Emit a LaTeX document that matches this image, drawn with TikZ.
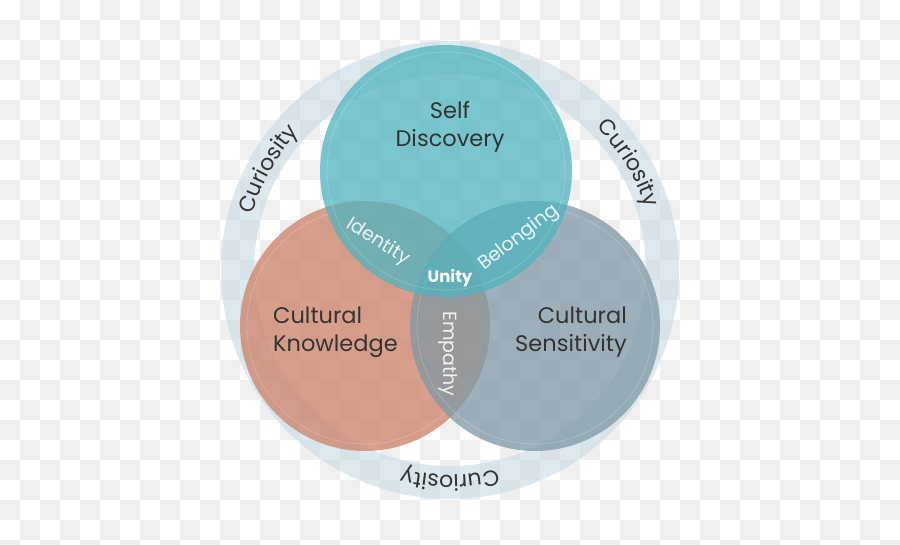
\documentclass[tikz,border=0pt]{standalone}
\usepackage{fontspec}
\setmainfont{Poppins}
\usetikzlibrary{decorations.text}
\definecolor{checkgray}{HTML}{EFEFEF}
\definecolor{ringcol}{HTML}{C9DCE5}
\definecolor{tealc}{HTML}{4FB5BF}
\definecolor{salmonc}{HTML}{CC8166}
\definecolor{greyc}{HTML}{7E98A5}
\definecolor{txt}{HTML}{333333}
\tikzset{
  venn/.style={fill opacity=0.75},
  glint/.style={draw=white, draw opacity=0.18, line width=0.8pt},
  bigtxt/.style={text=txt, font=\fontsize{22.5}{28}\selectfont, inner sep=0pt},
  lenstxt/.style={text=white, text opacity=0.88, font=\fontsize{19}{22}\selectfont, inner sep=0pt},
}
\begin{document}
\begin{tikzpicture}[x=1pt,y=1pt]
\useasboundingbox (0,0) rectangle (900,544);
% checkerboard background
\fill[white] (0,0) rectangle (900,544);
\foreach \i in {0,...,44}{
  \foreach \j in {0,...,27}{
    \pgfmathtruncatemacro\parity{mod(\i+\j,2)}
    \ifnum\parity=1
      \fill[checkgray] (20*\i,544-20*\j) rectangle (20*\i+20,524-20*\j);
    \fi
  }
}
% outer ring
\coordinate (ctr) at (450,274);
\fill[ringcol, fill opacity=0.62, even odd rule] (ctr) circle[radius=229] (ctr) circle[radius=196];
% circles
\coordinate (cL) at (365,218);
\coordinate (cR) at (535,218);
\coordinate (cT) at (446,373);
\fill[salmonc, venn] (cL) circle[radius=125];
\draw[glint] (cL) circle[radius=118];
\fill[greyc, venn] (cR) circle[radius=125];
\draw[glint] (cR) circle[radius=118];
\fill[tealc, venn] (cT) circle[radius=126];
\draw[glint] (cT) circle[radius=119];
% Curiosity along the ring
\path[decorate, decoration={text along path, text align=center,
  text={|\fontsize{22}{26}\selectfont\color{txt}|Curiosity}}]
  (ctr) ++(172:205) arc[start angle=172, end angle=130, radius=205];
\path[decorate, decoration={text along path, text align=center,
  text={|\fontsize{22}{26}\selectfont\color{txt}|Curiosity}}]
  (ctr) ++(52:205) arc[start angle=52, end angle=10, radius=205];
\path[decorate, decoration={text along path, text align=center,
  text={|\fontsize{22}{26}\selectfont\color{txt}|Curiosity}}]
  (ctr) ++(291:205) arc[start angle=291, end angle=249, radius=205];
% main labels
\node[bigtxt, align=center] (self) at (450,417) {Self\\Discovery};
\node[bigtxt, align=left, anchor=west] (know) at (273,212) {Cultural\\Knowledge};
\node[bigtxt, align=right, anchor=east] (sens) at (627,212) {Cultural\\Sensitivity};
% lens labels
\node[lenstxt, rotate=-32] (ident) at (378,302) {Identity};
\node[lenstxt, rotate=38] (belong) at (519,306) {Belonging};
\node[lenstxt, rotate=-90] (emp) at (448,190) {Empathy};
\node[text=white, inner sep=0pt, font=\fontsize{16.5}{20}\selectfont\bfseries] (unity) at (450,266) {Unity};
\end{tikzpicture}
\end{document}
